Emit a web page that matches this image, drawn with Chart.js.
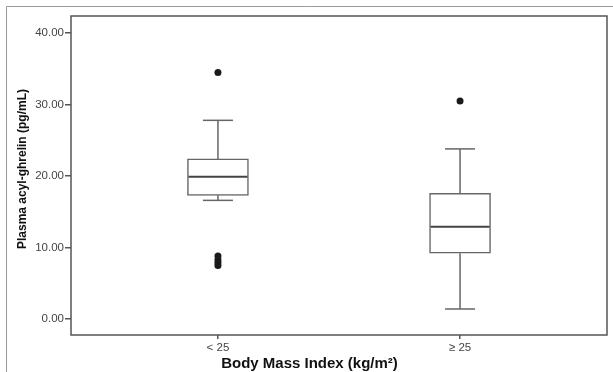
<!DOCTYPE html>
<html>
<head>
<meta charset="utf-8">
<script src="https://cdn.jsdelivr.net/npm/chart.js@4.4.0/dist/chart.umd.min.js"></script>
<style>
  html, body { margin: 0; padding: 0; background: #fff; }
</style>
</head>
<body>
<canvas id="boxChart" width="613" height="372"></canvas>
<script>
// box plot data
const groups = ['< 25', '\u2265 25'];
const lowWhisker = [16.6, 1.4];
const q1 = [17.3, 9.2];
const median = [19.9, 12.9];
const q3 = [22.4, 17.6];
const highWhisker = [27.8, 23.8];
const outliers = [[34.5, 8.8, 8.3, 7.9, 7.5], [30.5]];
const yTicks = [0, 10, 20, 30, 40];

const lineColor = '#666';

// whiskers as line segments, null breaks the line between them
const whiskerPts = [];
groups.forEach((g, i) => {
    whiskerPts.push({x: i, y: q3[i]}, {x: i, y: highWhisker[i]}, {x: i, y: null});
    whiskerPts.push({x: i, y: q1[i]}, {x: i, y: lowWhisker[i]}, {x: i, y: null});
});
const capPts = [];
groups.forEach((g, i) => {
    capPts.push({x: i, y: highWhisker[i]}, {x: i, y: lowWhisker[i]});
});
const outlierPts = [];
outliers.forEach((list, i) => list.forEach(v => outlierPts.push({x: i, y: v})));

// frames and axis titles
const framePlugin = {
    id: 'frames',
    beforeDraw(chart) {
        const ctx = chart.ctx;
        const a = chart.chartArea;
        ctx.save();
        ctx.fillStyle = '#fff';
        ctx.fillRect(0, 0, chart.width, chart.height);
        ctx.strokeStyle = '#9a9a9a';
        ctx.lineWidth = 1;
        ctx.beginPath();
        ctx.moveTo(6.5, chart.height);
        ctx.lineTo(6.5, 6.5);
        ctx.lineTo(chart.width, 6.5);
        ctx.stroke();
        ctx.strokeStyle = '#555';
        ctx.lineWidth = 1.5;
        ctx.strokeRect(a.left, a.top, a.right - a.left, a.bottom - a.top);
        ctx.restore();
    },
    afterDraw(chart) {
        const ctx = chart.ctx;
        ctx.save();
        ctx.fillStyle = '#111';
        ctx.textAlign = 'center';
        ctx.font = 'bold 15px "Liberation Sans", Arial, sans-serif';
        ctx.textBaseline = 'alphabetic';
        ctx.fillText('Body Mass Index (kg/m\u00b2)', (chart.width + 6) / 2, 368);
        ctx.translate(23, 169);
        ctx.rotate(-Math.PI / 2);
        ctx.font = 'bold 12px "Liberation Sans", Arial, sans-serif';
        ctx.textBaseline = 'middle';
        ctx.fillText('Plasma acyl-ghrelin (pg/mL)', 0, 0);
        ctx.restore();
    }
};

Chart.defaults.font.family = '"Liberation Sans", Arial, sans-serif';

const ctx = document.getElementById('boxChart').getContext('2d');
const boxChart = new Chart(ctx, {
    type: 'bar',
    data: {
        datasets: [
            {
                type: 'bar',
                data: groups.map((g, i) => ({x: i, y: [q1[i], q3[i]]})),
                backgroundColor: '#fff',
                borderColor: lineColor,
                borderWidth: 1.5,
                borderSkipped: false,
                barThickness: 61,
                grouped: false,
                order: 3
            },
            {
                type: 'line',
                data: whiskerPts,
                borderColor: lineColor,
                borderWidth: 1.5,
                pointRadius: 0,
                spanGaps: false,
                order: 2
            },
            {
                type: 'scatter',
                data: capPts,
                pointStyle: 'line',
                pointRadius: 15,
                borderColor: lineColor,
                borderWidth: 1.5,
                order: 1
            },
            {
                type: 'scatter',
                data: groups.map((g, i) => ({x: i, y: median[i]})),
                pointStyle: 'line',
                pointRadius: 29.5,
                borderColor: '#444',
                borderWidth: 2,
                order: 1
            },
            {
                type: 'scatter',
                data: outlierPts,
                pointRadius: 3.5,
                backgroundColor: '#1a1a1a',
                borderWidth: 0,
                order: 0
            }
        ]
    },
    options: {
        responsive: false,
        animation: false,
        events: [],
        layout: {autoPadding: false, padding: {left: 0, right: 6, top: 16, bottom: 0}},
        plugins: {
            legend: {display: false},
            tooltip: {enabled: false}
        },
        scales: {
            x: {
                type: 'linear',
                offset: false,
                min: -0.607,
                max: 1.607,
                afterBuildTicks: s => { s.ticks = groups.map((g, i) => ({value: i})); },
                afterFit: s => { s.height = 37; },
                ticks: {
                    callback: v => groups[v],
                    color: '#444',
                    font: {size: 11.5},
                    padding: 2,
                    maxRotation: 0,
                    autoSkip: false
                },
                grid: {offset: false, drawOnChartArea: false, tickLength: 4, color: '#555', lineWidth: 1.5},
                border: {display: false}
            },
            y: {
                min: -2.24,
                max: 42.4,
                afterBuildTicks: s => { s.ticks = yTicks.map(v => ({value: v})); },
                afterFit: s => { s.width = 71; },
                ticks: {
                    callback: v => v.toFixed(2),
                    color: '#444',
                    font: {size: 11.5},
                    padding: 1
                },
                grid: {drawOnChartArea: false, tickLength: 6, color: '#555', lineWidth: 1.5},
                border: {display: false}
            }
        }
    },
    plugins: [framePlugin]
});
</script>
</body>
</html>
